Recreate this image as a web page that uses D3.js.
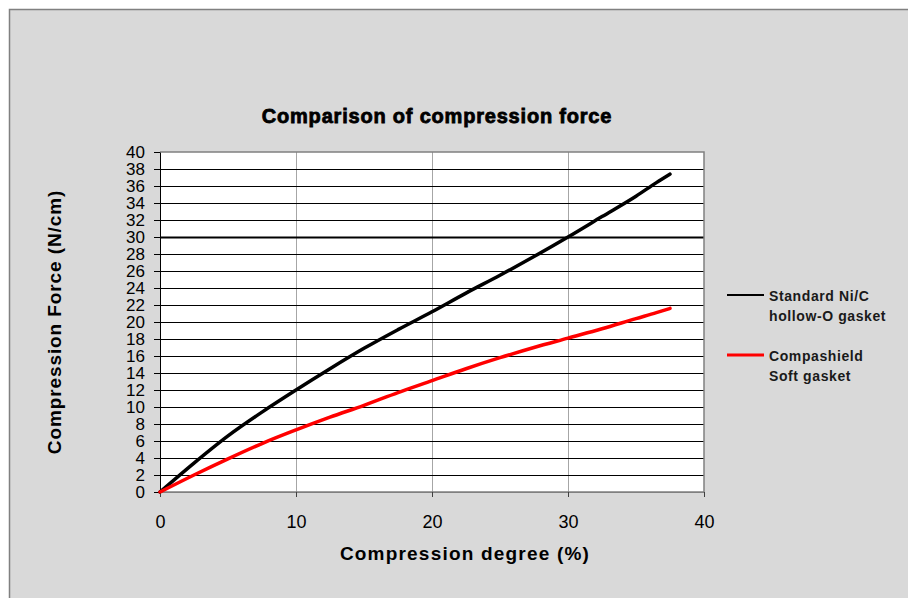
<!DOCTYPE html>
<html>
<head>
<meta charset="utf-8">
<script src="https://cdn.jsdelivr.net/npm/d3@7"></script>
<style>
  html, body { margin: 0; padding: 0; background: #fff; }
  svg { display: block; font-family: "Liberation Sans", Arial, sans-serif; }
</style>
</head>
<body>
<div id="chart"></div>
<script>
// compression degree (%) and force (N/cm)
const degree = [0, 2.5, 5, 7.5, 10, 12.5, 15, 17.5, 20, 22.5, 25, 27.5, 30, 32.5, 35, 36.5, 37.5];
const niC = [0, 3.4, 6.6, 9.4, 12.0, 14.5, 16.9, 19.1, 21.2, 23.4, 25.5, 27.7, 30.0, 32.4, 34.8, 36.4, 37.4];
const compashield = [0, 2.0, 3.9, 5.7, 7.3, 8.8, 10.2, 11.7, 13.1, 14.5, 15.8, 17.0, 18.1, 19.2, 20.4, 21.1, 21.6];

const seriesNames = [["Standard Ni/C", "hollow-O gasket"], ["Compashield", "Soft gasket"]];
const seriesColors = ["#000000", "#ff0000"];
const xTicks = [0, 10, 20, 30, 40];
const yTicks = d3.range(0, 41, 2);

const width = 908, height = 598;
const margin = { top: 152, right: 204, bottom: 106, left: 160 };

const svg = d3.select("#chart").append("svg")
  .attr("width", width)
  .attr("height", height);

// chart area background
svg.append("rect")
  .attr("x", 9.5).attr("y", 9.5)
  .attr("width", width).attr("height", height)
  .attr("fill", "#d9d9d9")
  .attr("stroke", "#808080")
  .attr("stroke-width", 1.5);

const x = d3.scaleLinear()
  .domain([0, 40])
  .range([margin.left, width - margin.right]);

const y = d3.scaleLinear()
  .domain([0, 40])
  .range([height - margin.bottom, margin.top]);

// plot area
svg.append("rect")
  .attr("x", x(0)).attr("y", y(40))
  .attr("width", x(40) - x(0)).attr("height", y(0) - y(40))
  .attr("fill", "#fff");

// vertical gridlines
svg.append("g")
  .selectAll("line")
  .data(xTicks.slice(1, -1))
  .join("line")
  .attr("x1", d => x(d) + 0.5).attr("x2", d => x(d) + 0.5)
  .attr("y1", y(40)).attr("y2", y(0))
  .attr("stroke", "#a6a6a6");

// horizontal gridlines
svg.append("g")
  .selectAll("line")
  .data(yTicks.slice(1, -1))
  .join("line")
  .attr("x1", x(0)).attr("x2", x(40))
  .attr("y1", d => Math.round(y(d)) + 0.5).attr("y2", d => Math.round(y(d)) + 0.5)
  .attr("stroke", "#000")
  .attr("stroke-width", d => d === 30 ? 2 : 1);

// plot border (top / right / bottom)
svg.append("path")
  .attr("d", `M${x(0)},${y(40)}H${x(40)}V${y(0)}H${x(0)}`)
  .attr("fill", "none")
  .attr("stroke", "#808080")
  .attr("stroke-width", 1.5);

// axes
const xAxis = g => g
  .attr("transform", `translate(0,${y(0)})`)
  .call(d3.axisBottom(x).tickValues(xTicks).tickSize(5).tickPadding(18))
  .call(g => g.select(".domain").attr("stroke", "#808080"))
  .call(g => g.selectAll(".tick line").attr("stroke", "#404040"))
  .call(g => g.selectAll(".tick text")
    .attr("font-size", 18)
    .attr("font-family", "Liberation Sans, Arial, sans-serif")
    .attr("fill", "#000"));

const yAxis = g => g
  .attr("transform", `translate(${x(0)},0)`)
  .call(d3.axisLeft(y).tickValues(yTicks).tickSize(6).tickPadding(9).tickSizeOuter(0))
  .call(g => g.select(".domain").attr("stroke", "#000"))
  .call(g => g.selectAll(".tick text")
    .attr("font-size", 17)
    .attr("font-family", "Liberation Sans, Arial, sans-serif")
    .attr("fill", "#000"));

svg.append("g").call(xAxis);
svg.append("g").call(yAxis);

// series lines
const line = d3.line()
  .x((d, i) => x(degree[i]))
  .y(d => y(d))
  .curve(d3.curveMonotoneX);

[niC, compashield].forEach((s, i) => {
  svg.append("path")
    .datum(s)
    .attr("fill", "none")
    .attr("stroke", seriesColors[i])
    .attr("stroke-width", 3.5)
    .attr("stroke-linejoin", "round")
    .attr("stroke-linecap", "round")
    .attr("d", line);
});

// title
svg.append("text")
  .attr("x", 437).attr("y", 123)
  .attr("text-anchor", "middle")
  .attr("font-size", 20)
  .attr("font-weight", "bold")
  .attr("letter-spacing", 0.8)
  .attr("stroke", "#000")
  .attr("stroke-width", 0.8)
  .text("Comparison of compression force");

// axis titles
svg.append("text")
  .attr("x", 465).attr("y", 560)
  .attr("text-anchor", "middle")
  .attr("font-size", 19)
  .attr("font-weight", "bold")
  .attr("letter-spacing", 1.2)
  .text("Compression degree (%)");

svg.append("text")
  .attr("transform", `translate(61,322) rotate(-90)`)
  .attr("text-anchor", "middle")
  .attr("font-size", 19)
  .attr("font-weight", "bold")
  .attr("letter-spacing", 0.9)
  .text("Compression Force (N/cm)");

// legend
const legend = svg.append("g");
seriesNames.forEach((lines, i) => {
  const ly = 295 + i * 60;
  legend.append("line")
    .attr("x1", 727).attr("x2", 764)
    .attr("y1", ly).attr("y2", ly)
    .attr("stroke", seriesColors[i])
    .attr("stroke-width", i === 0 ? 2 : 3);
  lines.forEach((t, j) => {
    legend.append("text")
      .attr("x", 769).attr("y", ly + 6 + j * 20)
      .attr("font-size", 14)
      .attr("font-weight", "bold")
      .attr("letter-spacing", 0.6)
      .attr("fill", "#1a1a1a")
      .text(t);
  });
});
</script>
</body>
</html>
